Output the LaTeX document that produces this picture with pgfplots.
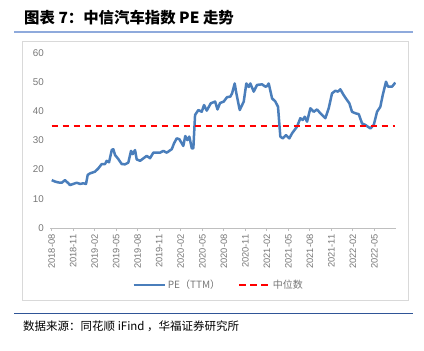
\documentclass[border=0pt]{standalone}
\usepackage{pgfplots}
\pgfplotsset{compat=1.18}
\usepackage{fontspec}
\setmainfont{Liberation Sans}
\newfontfamily\cjk{Noto Sans CJK SC}
\definecolor{peblue}{HTML}{4A7EBB}
\definecolor{lightline}{HTML}{8FAADC}
\definecolor{darkline}{HTML}{2F5597}
\definecolor{txtgray}{HTML}{767676}
\definecolor{framegray}{HTML}{D9D9D9}
\definecolor{axgray}{HTML}{BFBFBF}
\begin{document}
\begin{tikzpicture}[x=1bp,y=1bp]
\path[use as bounding box] (0,0) rectangle (424,351);
\node[anchor=west,inner sep=0pt] at (24,333.5) {\cjk\bfseries\fontsize{15.4bp}{17bp}\selectfont 图表 7：中信汽车指数 PE 走势};
\draw[lightline,line width=2bp] (14,319.3) -- (413,319.3);
\draw[framegray,line width=0.8bp] (22.5,50.3) rectangle (408.5,310);
\draw[darkline,line width=1.5bp] (14,37.7) -- (413,37.7);
\node[anchor=west,inner sep=0pt] at (23,24.3) {\cjk\fontsize{11.5bp}{13bp}\selectfont 数据来源：同花顺 iFind ，华福证券研究所};
\begin{axis}[
  at={(50.3bp,123bp)}, anchor=south west,
  width=345.6bp, height=175.2bp, scale only axis,
  xmin=-0.2, xmax=48, ymin=0, ymax=60,
  axis x line=bottom, axis y line=left,
  x axis line style={axgray,line width=0.8bp,-},
  y axis line style={draw=none},
  xtick={0,3,...,45},
  xticklabels={2018-08,2018-11,2019-02,2019-05,2019-08,2019-11,2020-02,2020-05,2020-08,2020-11,2021-02,2021-05,2021-08,2021-11,2022-02,2022-05},
  ytick={0,10,...,60},
  tick align=outside,
  x tick style={axgray,line width=0.8bp},
  major tick length=3bp,
  y tick style={draw=none},
  xticklabel style={rotate=90,anchor=east,font=\fontsize{9.3bp}{10bp}\selectfont,text=txtgray},
  yticklabel style={font=\fontsize{9.8bp}{11bp}\selectfont,text=txtgray},
  /pgf/number format/assume math mode=true,
  legend columns=2,
  legend style={at={(0.487,-0.325)},anchor=center,draw=none,fill=none,
    font=\cjk\fontsize{10bp}{11bp}\selectfont,text=txtgray,
    /tikz/every even column/.append style={column sep=16bp}},
  legend image code/.code={\draw[#1] (0bp,0bp) -- (31bp,0bp);},
]
\addplot[peblue,line width=2.5bp,line join=round] coordinates {
(0,16.4)(0.46,15.9)(0.92,15.6)(1.39,15.5)(1.85,16.4)(2.32,15.3)(2.55,14.7)(3.01,15.1)(3.49,15.5)(3.95,15.1)(4.41,15.3)(4.78,15.1)(5.02,18.2)(5.34,18.7)(6.04,19.3)(6.50,20.4)(6.97,21.9)(7.43,21.9)(7.67,23.0)(7.99,22.5)(8.37,26.7)(8.59,27.0)(8.83,25.0)(9.29,23.6)(9.76,21.9)(10.22,21.8)(10.68,22.4)(11.06,26.4)(11.30,25.3)(11.62,26.7)(11.85,23.5)(12.32,23.0)(13.25,24.7)(13.71,23.9)(14.17,25.8)(15.10,25.8)(15.56,26.4)(16.04,25.8)(16.74,27.0)(17.06,29.0)(17.43,30.7)(17.80,30.4)(18.35,28.1)(18.63,31.5)(18.91,30.1)(19.19,31.3)(19.53,27.3)(19.75,27.3)(19.99,38.7)(20.45,40.4)(20.92,39.8)(21.24,42.1)(21.62,40.2)(22.18,42.7)(22.79,43.3)(23.12,40.6)(23.47,42.8)(23.99,43.3)(24.45,44.8)(24.91,45.0)(25.15,46.1)(25.52,49.5)(25.75,46.1)(26.22,40.4)(26.78,43.3)(27.14,49.5)(27.48,48.3)(27.70,49.5)(28.17,46.7)(28.63,49.0)(29.33,49.2)(29.79,48.4)(30.03,48.6)(30.26,49.5)(30.73,44.4)(31.19,43.3)(31.56,41.5)(31.88,31.3)(32.22,30.7)(32.68,31.8)(33.14,30.7)(33.51,32.4)(34.21,34.7)(34.67,37.6)(35.01,37.0)(35.29,38.1)(35.61,36.4)(36.07,41.0)(36.54,39.8)(37.00,40.6)(37.46,39.3)(38.16,37.6)(38.63,41.0)(39.09,46.1)(39.55,47.0)(39.93,46.7)(40.25,47.5)(40.72,45.5)(41.19,43.8)(41.51,42.7)(41.88,39.8)(42.34,39.3)(42.82,39.0)(43.28,35.8)(43.74,35.3)(44.44,34.1)(44.91,35.3)(45.37,39.8)(45.83,41.5)(46.16,45.5)(46.62,50.1)(46.90,48.4)(47.46,48.4)(47.92,49.8)
};
\addlegendentry{PE（TTM）}
\addplot[red,line width=1.8bp,dash pattern=on 6.5bp off 4.5bp] coordinates {(0,35)(47.92,35)};
\addlegendentry{中位数}
\end{axis}
\end{tikzpicture}
\end{document}
